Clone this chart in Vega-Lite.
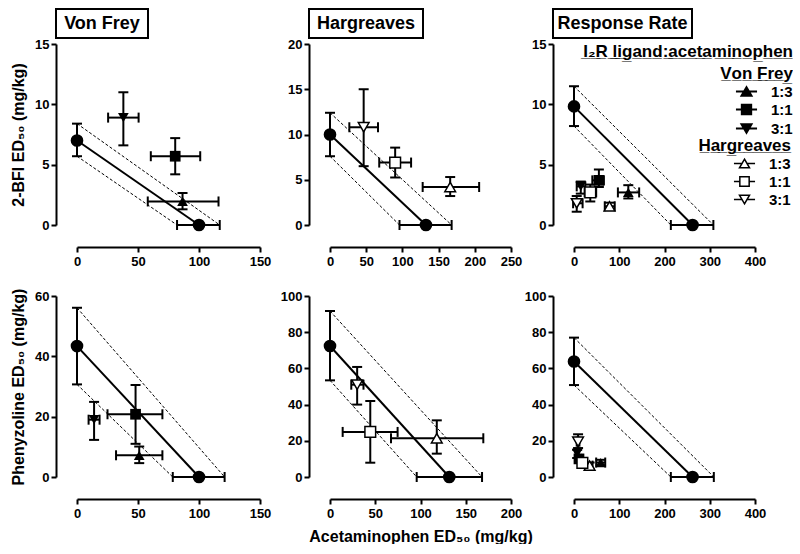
{
"$schema":"https://vega.github.io/schema/vega-lite/v6.json",
"background":"white",
"padding":{"left":10,"top":8,"right":0,"bottom":0},
"config":{
 "font":"Liberation Sans",
 "view":{"stroke":null},
 "axis":{"domainColor":"black","domainWidth":2,"tickColor":"black","tickWidth":2,"tickSize":5,"labelFontSize":13,"labelFontWeight":"bold","labelColor":"black","labelFlush":false,"labelOverlap":false,"labelBound":false,"labelSeparation":0,"titleFontSize":16,"titleFontWeight":"bold","titleColor":"black","grid":false},
 "axisQuantitative":{"labelOverlap":false},
 "axisX":{"labelPadding":3,"titlePadding":8,"labelOverlap":false},
 "axisY":{"labelPadding":2,"titlePadding":8}
},
"datasets":{
"pts":[
{"p":"A","g":"S","r":null,"x":0,"y":7.0,"xl":null,"xh":null,"yl":5.7,"yh":8.4},
{"p":"A","g":"S","r":null,"x":100,"y":0,"xl":82,"xh":117,"yl":null,"yh":null},
{"p":"A","g":"VF","r":"1:3","x":86.5,"y":1.95,"xl":58,"xh":116,"yl":1.3,"yh":2.65},
{"p":"A","g":"VF","r":"1:1","x":80.5,"y":5.7,"xl":60.5,"xh":101,"yl":4.2,"yh":7.2},
{"p":"A","g":"VF","r":"3:1","x":38,"y":8.9,"xl":25.5,"xh":50.5,"yl":6.6,"yh":11.0},
{"p":"B","g":"S","r":null,"x":0,"y":10,"xl":null,"xh":null,"yl":7.6,"yh":12.4},
{"p":"B","g":"S","r":null,"x":132.5,"y":0,"xl":96,"xh":168,"yl":null,"yh":null},
{"p":"B","g":"HG","r":"1:3","x":166,"y":4.2,"xl":128,"xh":206,"yl":3.2,"yh":5.3},
{"p":"B","g":"HG","r":"1:1","x":90,"y":6.9,"xl":68,"xh":112,"yl":5.25,"yh":8.55},
{"p":"B","g":"HG","r":"3:1","x":46.5,"y":10.8,"xl":26.7,"xh":66.3,"yl":6.5,"yh":15.0},
{"p":"C","g":"S","r":null,"x":0,"y":9.83,"xl":null,"xh":null,"yl":8.2,"yh":11.5},
{"p":"C","g":"S","r":null,"x":262,"y":0,"xl":214,"xh":308,"yl":null,"yh":null},
{"p":"C","g":"VF","r":"1:3","x":120,"y":2.7,"xl":97,"xh":144,"yl":2.2,"yh":3.3},
{"p":"C","g":"VF","r":"1:1","x":55,"y":3.7,"xl":40.5,"xh":66,"yl":3.15,"yh":4.6},
{"p":"C","g":"VF","r":"3:1","x":15,"y":3.2,"xl":6,"xh":25,"yl":2.6,"yh":3.6},
{"p":"C","g":"HG","r":"1:3","x":78.5,"y":1.55,"xl":68,"xh":90,"yl":1.25,"yh":1.85},
{"p":"C","g":"HG","r":"1:1","x":36,"y":2.7,"xl":23.5,"xh":49,"yl":1.95,"yh":3.35},
{"p":"C","g":"HG","r":"3:1","x":6,"y":1.8,"xl":-2,"xh":19,"yl":1.1,"yh":2.4},
{"p":"D","g":"S","r":null,"x":0,"y":43.4,"xl":null,"xh":null,"yl":30.7,"yh":56.1},
{"p":"D","g":"S","r":null,"x":100,"y":0,"xl":78.5,"xh":121,"yl":null,"yh":null},
{"p":"D","g":"VF","r":"1:3","x":51,"y":7.2,"xl":32,"xh":70,"yl":4.6,"yh":10.1},
{"p":"D","g":"VF","r":"1:1","x":48,"y":20.8,"xl":25,"xh":70,"yl":11,"yh":30.5},
{"p":"D","g":"VF","r":"3:1","x":14,"y":19,"xl":9.5,"xh":18.5,"yl":12.3,"yh":24.9},
{"p":"E","g":"S","r":null,"x":0,"y":72.4,"xl":null,"xh":null,"yl":53.4,"yh":91.7},
{"p":"E","g":"S","r":null,"x":131.8,"y":0,"xl":95.8,"xh":168,"yl":null,"yh":null},
{"p":"E","g":"HG","r":"1:3","x":118,"y":21.4,"xl":67.4,"xh":169.4,"yl":12.9,"yh":31.3},
{"p":"E","g":"HG","r":"1:1","x":44.5,"y":24.9,"xl":14,"xh":74.7,"yl":7.9,"yh":42},
{"p":"E","g":"HG","r":"3:1","x":30,"y":51,"xl":23.5,"xh":37,"yl":40,"yh":60.8},
{"p":"F","g":"S","r":null,"x":0,"y":63.8,"xl":null,"xh":null,"yl":50.8,"yh":77},
{"p":"F","g":"S","r":null,"x":262,"y":0,"xl":214,"xh":309,"yl":null,"yh":null},
{"p":"F","g":"VF","r":"1:3","x":59,"y":8,"xl":49,"xh":69,"yl":6.5,"yh":9.5},
{"p":"F","g":"VF","r":"1:1","x":11,"y":10,"xl":6,"xh":16,"yl":8,"yh":12},
{"p":"F","g":"VF","r":"3:1","x":7,"y":13,"xl":4,"xh":10,"yl":10.5,"yh":15},
{"p":"F","g":"HG","r":"1:3","x":34.5,"y":6.3,"xl":28,"xh":41,"yl":4.6,"yh":8},
{"p":"F","g":"HG","r":"1:1","x":18.5,"y":7.8,"xl":12,"xh":25,"yl":6,"yh":9.6},
{"p":"F","g":"HG","r":"3:1","x":9,"y":19.5,"xl":6,"xh":12,"yl":16,"yh":23.6}
],
"lns":[
{"p":"A","t":"add","x":0,"y":7.0,"x2":100,"y2":0},
{"p":"A","t":"ci","x":0,"y":8.4,"x2":117,"y2":0},
{"p":"A","t":"ci","x":0,"y":5.7,"x2":82,"y2":0},
{"p":"B","t":"add","x":0,"y":10,"x2":132.5,"y2":0},
{"p":"B","t":"ci","x":0,"y":12.4,"x2":168,"y2":0},
{"p":"B","t":"ci","x":0,"y":7.6,"x2":96,"y2":0},
{"p":"C","t":"add","x":0,"y":9.83,"x2":262,"y2":0},
{"p":"C","t":"ci","x":0,"y":11.5,"x2":308,"y2":0},
{"p":"C","t":"ci","x":0,"y":8.2,"x2":214,"y2":0},
{"p":"D","t":"add","x":0,"y":43.4,"x2":100,"y2":0},
{"p":"D","t":"ci","x":0,"y":56.1,"x2":121,"y2":0},
{"p":"D","t":"ci","x":0,"y":30.7,"x2":78.5,"y2":0},
{"p":"E","t":"add","x":0,"y":72.4,"x2":131.8,"y2":0},
{"p":"E","t":"ci","x":0,"y":91.7,"x2":168,"y2":0},
{"p":"E","t":"ci","x":0,"y":53.4,"x2":95.8,"y2":0},
{"p":"F","t":"add","x":0,"y":63.8,"x2":262,"y2":0},
{"p":"F","t":"ci","x":0,"y":77,"x2":309,"y2":0},
{"p":"F","t":"ci","x":0,"y":50.8,"x2":214,"y2":0}
]
},
"columns":3,
"align":"each",
"bounds":"flush",
"spacing":{"row":6,"column":45},
"concat":[
{"width":92,"height":29,"view":{"stroke":"black","strokeWidth":2},"data":{"values":[{"t":"Von Frey"}]},"mark":{"type":"text","fontSize":18,"fontWeight":"bold","color":"black"},"encoding":{"text":{"field":"t","type":"nominal"}}},
{"width":114,"height":29,"view":{"stroke":"black","strokeWidth":2},"data":{"values":[{"t":"Hargreaves"}]},"mark":{"type":"text","fontSize":18,"fontWeight":"bold","color":"black"},"encoding":{"text":{"field":"t","type":"nominal"}}},
{"width":139,"height":29,"view":{"stroke":"black","strokeWidth":2},"data":{"values":[{"t":"Response Rate"}]},"mark":{"type":"text","fontSize":18,"fontWeight":"bold","color":"black"},"encoding":{"text":{"field":"t","type":"nominal"}}},

{"width":208,"height":203,"layer":[
 {"data":{"name":"lns"},"transform":[{"filter":"datum.p=='A' && datum.t=='add'"}],"mark":{"type":"rule","strokeWidth":2,"color":"black"},"encoding":{"x":{"field":"x","type":"quantitative","title":null,"scale":{"domain":[0,150],"range":[21,204],"nice":false,"zero":false},"axis":{"values":[0,50,100,150],"labelOverlap":false}},"y":{"field":"y","type":"quantitative","title":"2-BFI ED₅₀ (mg/kg)","scale":{"domain":[0,15],"range":[181,0],"nice":false,"zero":false},"axis":{"values":[0,5,10,15],"labelOverlap":false}},"x2":{"field":"x2"},"y2":{"field":"y2"}}},
 {"data":{"name":"lns"},"transform":[{"filter":"datum.p=='A' && datum.t=='ci'"}],"mark":{"type":"rule","strokeWidth":1,"strokeDash":[3,2],"color":"black"},"encoding":{"x":{"field":"x","type":"quantitative","title":null,"scale":{"domain":[0,150],"range":[21,204],"nice":false,"zero":false}},"y":{"field":"y","type":"quantitative","title":"2-BFI ED₅₀ (mg/kg)","scale":{"domain":[0,15],"range":[181,0],"nice":false,"zero":false}},"x2":{"field":"x2"},"y2":{"field":"y2"}}},
 {"data":{"name":"pts"},"transform":[{"filter":"datum.p=='A' && isValid(datum.yl)"}],"mark":{"type":"rule","strokeWidth":2,"color":"black"},"encoding":{"x":{"field":"x","type":"quantitative","title":null,"scale":{"domain":[0,150],"range":[21,204],"nice":false,"zero":false}},"y":{"field":"yl","type":"quantitative","title":"2-BFI ED₅₀ (mg/kg)","scale":{"domain":[0,15],"range":[181,0],"nice":false,"zero":false}},"y2":{"field":"yh"}}},
 {"data":{"name":"pts"},"transform":[{"filter":"datum.p=='A' && isValid(datum.xl)"}],"mark":{"type":"rule","strokeWidth":2,"color":"black"},"encoding":{"x":{"field":"xl","type":"quantitative","title":null,"scale":{"domain":[0,150],"range":[21,204],"nice":false,"zero":false}},"x2":{"field":"xh"},"y":{"field":"y","type":"quantitative","title":"2-BFI ED₅₀ (mg/kg)","scale":{"domain":[0,15],"range":[181,0],"nice":false,"zero":false}}}},
 {"data":{"name":"pts"},"transform":[{"filter":"datum.p=='A' && isValid(datum.yl)"},{"fold":["yl","yh"],"as":["k","cy"]}],"mark":{"type":"tick","orient":"horizontal","size":10,"thickness":2,"color":"black","opacity":1},"encoding":{"x":{"field":"x","type":"quantitative","title":null,"scale":{"domain":[0,150],"range":[21,204],"nice":false,"zero":false}},"y":{"field":"cy","type":"quantitative","title":"2-BFI ED₅₀ (mg/kg)","scale":{"domain":[0,15],"range":[181,0],"nice":false,"zero":false}}}},
 {"data":{"name":"pts"},"transform":[{"filter":"datum.p=='A' && isValid(datum.xl)"},{"fold":["xl","xh"],"as":["k","cx"]}],"mark":{"type":"tick","orient":"vertical","size":10,"thickness":2,"color":"black","opacity":1},"encoding":{"x":{"field":"cx","type":"quantitative","title":null,"scale":{"domain":[0,150],"range":[21,204],"nice":false,"zero":false}},"y":{"field":"y","type":"quantitative","title":"2-BFI ED₅₀ (mg/kg)","scale":{"domain":[0,15],"range":[181,0],"nice":false,"zero":false}}}},
 {"data":{"name":"pts"},"transform":[{"filter":"datum.p=='A' && datum.g=='S'"}],"mark":{"type":"point","shape":"circle","filled":true,"size":160,"color":"black","opacity":1},"encoding":{"x":{"field":"x","type":"quantitative","title":null,"scale":{"domain":[0,150],"range":[21,204],"nice":false,"zero":false}},"y":{"field":"y","type":"quantitative","title":"2-BFI ED₅₀ (mg/kg)","scale":{"domain":[0,15],"range":[181,0],"nice":false,"zero":false}}}},
 {"data":{"name":"pts"},"transform":[{"filter":"datum.p=='A' && datum.g=='VF'"}],"mark":{"type":"point","filled":true,"size":115,"color":"black","opacity":1},"encoding":{"x":{"field":"x","type":"quantitative","title":null,"scale":{"domain":[0,150],"range":[21,204],"nice":false,"zero":false}},"y":{"field":"y","type":"quantitative","title":"2-BFI ED₅₀ (mg/kg)","scale":{"domain":[0,15],"range":[181,0],"nice":false,"zero":false}},"shape":{"field":"r","type":"nominal","scale":{"domain":["1:3","1:1","3:1"],"range":["triangle-up","square","triangle-down"]},"legend":null}}}
]},

{"width":199,"height":203,"layer":[
 {"data":{"name":"lns"},"transform":[{"filter":"datum.p=='B' && datum.t=='add'"}],"mark":{"type":"rule","strokeWidth":2,"color":"black"},"encoding":{"x":{"field":"x","type":"quantitative","title":null,"scale":{"domain":[0,250],"range":[21,202],"nice":false,"zero":false},"axis":{"values":[0,50,100,150,200,250],"tickCount":6,"labelOverlap":false,"labelSeparation":0,"labelBound":false,"labelFlush":false}},"y":{"field":"y","type":"quantitative","title":null,"scale":{"domain":[0,20],"range":[181,0],"nice":false,"zero":false},"axis":{"values":[0,5,10,15,20],"labelOverlap":false}},"x2":{"field":"x2"},"y2":{"field":"y2"}}},
 {"data":{"name":"lns"},"transform":[{"filter":"datum.p=='B' && datum.t=='ci'"}],"mark":{"type":"rule","strokeWidth":1,"strokeDash":[3,2],"color":"black"},"encoding":{"x":{"field":"x","type":"quantitative","title":null,"scale":{"domain":[0,250],"range":[21,202],"nice":false,"zero":false},"axis":{"labelOverlap":false}},"y":{"field":"y","type":"quantitative","title":null,"scale":{"domain":[0,20],"range":[181,0],"nice":false,"zero":false}},"x2":{"field":"x2"},"y2":{"field":"y2"}}},
 {"data":{"name":"pts"},"transform":[{"filter":"datum.p=='B' && isValid(datum.yl)"}],"mark":{"type":"rule","strokeWidth":2,"color":"black"},"encoding":{"x":{"field":"x","type":"quantitative","title":null,"scale":{"domain":[0,250],"range":[21,202],"nice":false,"zero":false},"axis":{"labelOverlap":false}},"y":{"field":"yl","type":"quantitative","title":null,"scale":{"domain":[0,20],"range":[181,0],"nice":false,"zero":false}},"y2":{"field":"yh"}}},
 {"data":{"name":"pts"},"transform":[{"filter":"datum.p=='B' && isValid(datum.xl)"}],"mark":{"type":"rule","strokeWidth":2,"color":"black"},"encoding":{"x":{"field":"xl","type":"quantitative","title":null,"scale":{"domain":[0,250],"range":[21,202],"nice":false,"zero":false},"axis":{"labelOverlap":false}},"x2":{"field":"xh"},"y":{"field":"y","type":"quantitative","title":null,"scale":{"domain":[0,20],"range":[181,0],"nice":false,"zero":false}}}},
 {"data":{"name":"pts"},"transform":[{"filter":"datum.p=='B' && isValid(datum.yl)"},{"fold":["yl","yh"],"as":["k","cy"]}],"mark":{"type":"tick","orient":"horizontal","size":10,"thickness":2,"color":"black","opacity":1},"encoding":{"x":{"field":"x","type":"quantitative","title":null,"scale":{"domain":[0,250],"range":[21,202],"nice":false,"zero":false},"axis":{"labelOverlap":false}},"y":{"field":"cy","type":"quantitative","title":null,"scale":{"domain":[0,20],"range":[181,0],"nice":false,"zero":false}}}},
 {"data":{"name":"pts"},"transform":[{"filter":"datum.p=='B' && isValid(datum.xl)"},{"fold":["xl","xh"],"as":["k","cx"]}],"mark":{"type":"tick","orient":"vertical","size":10,"thickness":2,"color":"black","opacity":1},"encoding":{"x":{"field":"cx","type":"quantitative","title":null,"scale":{"domain":[0,250],"range":[21,202],"nice":false,"zero":false},"axis":{"labelOverlap":false}},"y":{"field":"y","type":"quantitative","title":null,"scale":{"domain":[0,20],"range":[181,0],"nice":false,"zero":false}}}},
 {"data":{"name":"pts"},"transform":[{"filter":"datum.p=='B' && datum.g=='S'"}],"mark":{"type":"point","shape":"circle","filled":true,"size":160,"color":"black","opacity":1},"encoding":{"x":{"field":"x","type":"quantitative","title":null,"scale":{"domain":[0,250],"range":[21,202],"nice":false,"zero":false},"axis":{"labelOverlap":false}},"y":{"field":"y","type":"quantitative","title":null,"scale":{"domain":[0,20],"range":[181,0],"nice":false,"zero":false}}}},
 {"data":{"name":"pts"},"transform":[{"filter":"datum.p=='B' && datum.g=='HG'"}],"mark":{"type":"point","filled":false,"fill":"white","stroke":"black","strokeWidth":1.5,"size":115,"opacity":1},"encoding":{"x":{"field":"x","type":"quantitative","title":null,"scale":{"domain":[0,250],"range":[21,202],"nice":false,"zero":false},"axis":{"labelOverlap":false}},"y":{"field":"y","type":"quantitative","title":null,"scale":{"domain":[0,20],"range":[181,0],"nice":false,"zero":false}},"shape":{"field":"r","type":"nominal","scale":{"domain":["1:3","1:1","3:1"],"range":["triangle-up","square","triangle-down"]},"legend":null}}}
]},

{"width":202,"height":203,"resolve":{"scale":{"shape":"independent"},"legend":{"shape":"independent"}},"layer":[
 {"data":{"name":"lns"},"transform":[{"filter":"datum.p=='C' && datum.t=='add'"}],"mark":{"type":"rule","strokeWidth":2,"color":"black"},"encoding":{"x":{"field":"x","type":"quantitative","title":null,"scale":{"domain":[0,400],"range":[21,202],"nice":false,"zero":false},"axis":{"values":[0,100,200,300,400],"labelOverlap":false}},"y":{"field":"y","type":"quantitative","title":null,"scale":{"domain":[0,15],"range":[181,0],"nice":false,"zero":false},"axis":{"values":[0,5,10,15],"labelOverlap":false}},"x2":{"field":"x2"},"y2":{"field":"y2"}}},
 {"data":{"name":"lns"},"transform":[{"filter":"datum.p=='C' && datum.t=='ci'"}],"mark":{"type":"rule","strokeWidth":1,"strokeDash":[3,2],"color":"black"},"encoding":{"x":{"field":"x","type":"quantitative","title":null,"scale":{"domain":[0,400],"range":[21,202],"nice":false,"zero":false}},"y":{"field":"y","type":"quantitative","title":null,"scale":{"domain":[0,15],"range":[181,0],"nice":false,"zero":false}},"x2":{"field":"x2"},"y2":{"field":"y2"}}},
 {"data":{"name":"pts"},"transform":[{"filter":"datum.p=='C' && isValid(datum.yl)"}],"mark":{"type":"rule","strokeWidth":2,"color":"black"},"encoding":{"x":{"field":"x","type":"quantitative","title":null,"scale":{"domain":[0,400],"range":[21,202],"nice":false,"zero":false}},"y":{"field":"yl","type":"quantitative","title":null,"scale":{"domain":[0,15],"range":[181,0],"nice":false,"zero":false}},"y2":{"field":"yh"}}},
 {"data":{"name":"pts"},"transform":[{"filter":"datum.p=='C' && isValid(datum.xl)"}],"mark":{"type":"rule","strokeWidth":2,"color":"black"},"encoding":{"x":{"field":"xl","type":"quantitative","title":null,"scale":{"domain":[0,400],"range":[21,202],"nice":false,"zero":false}},"x2":{"field":"xh"},"y":{"field":"y","type":"quantitative","title":null,"scale":{"domain":[0,15],"range":[181,0],"nice":false,"zero":false}}}},
 {"data":{"name":"pts"},"transform":[{"filter":"datum.p=='C' && isValid(datum.yl)"},{"fold":["yl","yh"],"as":["k","cy"]}],"mark":{"type":"tick","orient":"horizontal","size":10,"thickness":2,"color":"black","opacity":1},"encoding":{"x":{"field":"x","type":"quantitative","title":null,"scale":{"domain":[0,400],"range":[21,202],"nice":false,"zero":false}},"y":{"field":"cy","type":"quantitative","title":null,"scale":{"domain":[0,15],"range":[181,0],"nice":false,"zero":false}}}},
 {"data":{"name":"pts"},"transform":[{"filter":"datum.p=='C' && isValid(datum.xl)"},{"fold":["xl","xh"],"as":["k","cx"]}],"mark":{"type":"tick","orient":"vertical","size":10,"thickness":2,"color":"black","opacity":1},"encoding":{"x":{"field":"cx","type":"quantitative","title":null,"scale":{"domain":[0,400],"range":[21,202],"nice":false,"zero":false}},"y":{"field":"y","type":"quantitative","title":null,"scale":{"domain":[0,15],"range":[181,0],"nice":false,"zero":false}}}},
 {"data":{"name":"pts"},"transform":[{"filter":"datum.p=='C' && datum.g=='S'"}],"mark":{"type":"point","shape":"circle","filled":true,"size":160,"color":"black","opacity":1},"encoding":{"x":{"field":"x","type":"quantitative","title":null,"scale":{"domain":[0,400],"range":[21,202],"nice":false,"zero":false}},"y":{"field":"y","type":"quantitative","title":null,"scale":{"domain":[0,15],"range":[181,0],"nice":false,"zero":false}}}},
 {"data":{"name":"pts"},"transform":[{"filter":"datum.p=='C' && datum.g=='VF'"}],"mark":{"type":"point","filled":true,"size":115,"color":"black","opacity":1},"encoding":{"x":{"field":"x","type":"quantitative","title":null,"scale":{"domain":[0,400],"range":[21,202],"nice":false,"zero":false}},"y":{"field":"y","type":"quantitative","title":null,"scale":{"domain":[0,15],"range":[181,0],"nice":false,"zero":false}},"shape":{"field":"r","type":"nominal","scale":{"domain":["1:3","1:1","3:1"],"range":["triangle-up","square","triangle-down"]},"legend":null}}},
 {"data":{"name":"pts"},"transform":[{"filter":"datum.p=='C' && datum.g=='HG'"}],"mark":{"type":"point","filled":false,"fill":"white","stroke":"black","strokeWidth":1.5,"size":115,"opacity":1},"encoding":{"x":{"field":"x","type":"quantitative","title":null,"scale":{"domain":[0,400],"range":[21,202],"nice":false,"zero":false}},"y":{"field":"y","type":"quantitative","title":null,"scale":{"domain":[0,15],"range":[181,0],"nice":false,"zero":false}},"shape":{"field":"r","type":"nominal","scale":{"domain":["1:3","1:1","3:1"],"range":["triangle-up","square","triangle-down"]},"legend":null}}},
 {"data":{"name":"pts"},"transform":[{"filter":"datum.p=='none'"}],"mark":{"type":"point","filled":true,"size":100,"fill":"black","stroke":"black","strokeWidth":2,"opacity":1},"encoding":{"x":{"field":"x","type":"quantitative","title":null,"scale":{"domain":[0,400],"range":[21,202],"nice":false,"zero":false}},"y":{"field":"y","type":"quantitative","title":null,"scale":{"domain":[0,15],"range":[181,0],"nice":false,"zero":false}},"shape":{"field":"r","type":"nominal","scale":{"domain":["1:3","1:1","3:1"],"range":["M-1.24,0H1.24M0,-0.51L0.59,0.51L-0.59,0.51Z","M-1.24,0H1.24M-0.55,-0.55H0.55V0.55H-0.55Z","M-1.24,0H1.24M0,0.51L0.59,-0.51L-0.59,-0.51Z"]},"legend":{"orient":"none","legendX":30,"legendY":0,"title":["I\u0332₂\u0332R\u0332 \u0332l\u0332i\u0332g\u0332a\u0332n\u0332d\u0332:\u0332a\u0332c\u0332e\u0332t\u0332a\u0332m\u0332i\u0332n\u0332o\u0332p\u0332h\u0332e\u0332n\u0332","V\u0332o\u0332n\u0332 \u0332F\u0332r\u0332e\u0332y\u0332"],"titleAnchor":"end","titleAlign":"right","titleFontSize":17,"titleFontWeight":"bold","titleColor":"black","titleLineHeight":22,"titlePadding":-1,"titleLimit":400,"labelFontSize":15,"labelFontWeight":"bold","labelColor":"black","labelOffset":15,"labelLimit":200,"symbolOffset":152,"symbolSize":289,"symbolStrokeWidth":2,"symbolOpacity":1,"rowPadding":-6,"padding":0}}}},
 {"data":{"name":"pts"},"transform":[{"filter":"datum.p=='none'"}],"mark":{"type":"point","filled":false,"fill":"white","stroke":"black","strokeWidth":1.5,"size":100,"opacity":1},"encoding":{"x":{"field":"x","type":"quantitative","title":null,"scale":{"domain":[0,400],"range":[21,202],"nice":false,"zero":false}},"y":{"field":"y","type":"quantitative","title":null,"scale":{"domain":[0,15],"range":[181,0],"nice":false,"zero":false}},"shape":{"field":"r","type":"nominal","scale":{"domain":["1:3","1:1","3:1"],"range":["M-1.24,0H-0.3M0.3,0H1.24M0,-0.51L0.59,0.51L-0.59,0.51Z","M-1.24,0H-0.55M0.55,0H1.24M-0.55,-0.55H0.55V0.55H-0.55Z","M-1.24,0H-0.3M0.3,0H1.24M0,0.51L0.59,-0.51L-0.59,-0.51Z"]},"legend":{"orient":"none","legendX":145,"legendY":94,"title":"H\u0332a\u0332r\u0332g\u0332r\u0332e\u0332a\u0332v\u0332e\u0332s\u0332","titleAnchor":"end","titleAlign":"right","titleFontSize":17,"titleFontWeight":"bold","titleColor":"black","titlePadding":-1,"titleLimit":400,"labelFontSize":15,"labelFontWeight":"bold","labelColor":"black","labelOffset":15,"labelLimit":200,"symbolOffset":37,"symbolSize":289,"symbolStrokeWidth":1.5,"symbolOpacity":1,"rowPadding":-6,"padding":0}}}}
]},

{"width":208,"height":246,"layer":[
 {"data":{"name":"lns"},"transform":[{"filter":"datum.p=='D' && datum.t=='add'"}],"mark":{"type":"rule","strokeWidth":2,"color":"black"},"encoding":{"x":{"field":"x","type":"quantitative","title":null,"scale":{"domain":[0,150],"range":[21,204],"nice":false,"zero":false},"axis":{"values":[0,50,100,150],"labelOverlap":false}},"y":{"field":"y","type":"quantitative","title":"Phenyzoline ED₅₀ (mg/kg)","scale":{"domain":[0,60],"range":[224,43],"nice":false,"zero":false},"axis":{"values":[0,20,40,60],"labelOverlap":false}},"x2":{"field":"x2"},"y2":{"field":"y2"}}},
 {"data":{"name":"lns"},"transform":[{"filter":"datum.p=='D' && datum.t=='ci'"}],"mark":{"type":"rule","strokeWidth":1,"strokeDash":[3,2],"color":"black"},"encoding":{"x":{"field":"x","type":"quantitative","title":null,"scale":{"domain":[0,150],"range":[21,204],"nice":false,"zero":false}},"y":{"field":"y","type":"quantitative","title":"Phenyzoline ED₅₀ (mg/kg)","scale":{"domain":[0,60],"range":[224,43],"nice":false,"zero":false}},"x2":{"field":"x2"},"y2":{"field":"y2"}}},
 {"data":{"name":"pts"},"transform":[{"filter":"datum.p=='D' && isValid(datum.yl)"}],"mark":{"type":"rule","strokeWidth":2,"color":"black"},"encoding":{"x":{"field":"x","type":"quantitative","title":null,"scale":{"domain":[0,150],"range":[21,204],"nice":false,"zero":false}},"y":{"field":"yl","type":"quantitative","title":"Phenyzoline ED₅₀ (mg/kg)","scale":{"domain":[0,60],"range":[224,43],"nice":false,"zero":false}},"y2":{"field":"yh"}}},
 {"data":{"name":"pts"},"transform":[{"filter":"datum.p=='D' && isValid(datum.xl)"}],"mark":{"type":"rule","strokeWidth":2,"color":"black"},"encoding":{"x":{"field":"xl","type":"quantitative","title":null,"scale":{"domain":[0,150],"range":[21,204],"nice":false,"zero":false}},"x2":{"field":"xh"},"y":{"field":"y","type":"quantitative","title":"Phenyzoline ED₅₀ (mg/kg)","scale":{"domain":[0,60],"range":[224,43],"nice":false,"zero":false}}}},
 {"data":{"name":"pts"},"transform":[{"filter":"datum.p=='D' && isValid(datum.yl)"},{"fold":["yl","yh"],"as":["k","cy"]}],"mark":{"type":"tick","orient":"horizontal","size":10,"thickness":2,"color":"black","opacity":1},"encoding":{"x":{"field":"x","type":"quantitative","title":null,"scale":{"domain":[0,150],"range":[21,204],"nice":false,"zero":false}},"y":{"field":"cy","type":"quantitative","title":"Phenyzoline ED₅₀ (mg/kg)","scale":{"domain":[0,60],"range":[224,43],"nice":false,"zero":false}}}},
 {"data":{"name":"pts"},"transform":[{"filter":"datum.p=='D' && isValid(datum.xl)"},{"fold":["xl","xh"],"as":["k","cx"]}],"mark":{"type":"tick","orient":"vertical","size":10,"thickness":2,"color":"black","opacity":1},"encoding":{"x":{"field":"cx","type":"quantitative","title":null,"scale":{"domain":[0,150],"range":[21,204],"nice":false,"zero":false}},"y":{"field":"y","type":"quantitative","title":"Phenyzoline ED₅₀ (mg/kg)","scale":{"domain":[0,60],"range":[224,43],"nice":false,"zero":false}}}},
 {"data":{"name":"pts"},"transform":[{"filter":"datum.p=='D' && datum.g=='S'"}],"mark":{"type":"point","shape":"circle","filled":true,"size":160,"color":"black","opacity":1},"encoding":{"x":{"field":"x","type":"quantitative","title":null,"scale":{"domain":[0,150],"range":[21,204],"nice":false,"zero":false}},"y":{"field":"y","type":"quantitative","title":"Phenyzoline ED₅₀ (mg/kg)","scale":{"domain":[0,60],"range":[224,43],"nice":false,"zero":false}}}},
 {"data":{"name":"pts"},"transform":[{"filter":"datum.p=='D' && datum.g=='VF'"}],"mark":{"type":"point","filled":true,"size":115,"color":"black","opacity":1},"encoding":{"x":{"field":"x","type":"quantitative","title":null,"scale":{"domain":[0,150],"range":[21,204],"nice":false,"zero":false}},"y":{"field":"y","type":"quantitative","title":"Phenyzoline ED₅₀ (mg/kg)","scale":{"domain":[0,60],"range":[224,43],"nice":false,"zero":false}},"shape":{"field":"r","type":"nominal","scale":{"domain":["1:3","1:1","3:1"],"range":["triangle-up","square","triangle-down"]},"legend":null}}}
]},

{"width":199,"height":246,"layer":[
 {"data":{"name":"lns"},"transform":[{"filter":"datum.p=='E' && datum.t=='add'"}],"mark":{"type":"rule","strokeWidth":2,"color":"black"},"encoding":{"x":{"field":"x","type":"quantitative","title":"Acetaminophen ED₅₀ (mg/kg)","scale":{"domain":[0,200],"range":[21,202],"nice":false,"zero":false},"axis":{"values":[0,50,100,150,200],"labelOverlap":false}},"y":{"field":"y","type":"quantitative","title":null,"scale":{"domain":[0,100],"range":[224,43],"nice":false,"zero":false},"axis":{"values":[0,20,40,60,80,100],"labelOverlap":false}},"x2":{"field":"x2"},"y2":{"field":"y2"}}},
 {"data":{"name":"lns"},"transform":[{"filter":"datum.p=='E' && datum.t=='ci'"}],"mark":{"type":"rule","strokeWidth":1,"strokeDash":[3,2],"color":"black"},"encoding":{"x":{"field":"x","type":"quantitative","title":"Acetaminophen ED₅₀ (mg/kg)","scale":{"domain":[0,200],"range":[21,202],"nice":false,"zero":false}},"y":{"field":"y","type":"quantitative","title":null,"scale":{"domain":[0,100],"range":[224,43],"nice":false,"zero":false}},"x2":{"field":"x2"},"y2":{"field":"y2"}}},
 {"data":{"name":"pts"},"transform":[{"filter":"datum.p=='E' && isValid(datum.yl)"}],"mark":{"type":"rule","strokeWidth":2,"color":"black"},"encoding":{"x":{"field":"x","type":"quantitative","title":"Acetaminophen ED₅₀ (mg/kg)","scale":{"domain":[0,200],"range":[21,202],"nice":false,"zero":false}},"y":{"field":"yl","type":"quantitative","title":null,"scale":{"domain":[0,100],"range":[224,43],"nice":false,"zero":false}},"y2":{"field":"yh"}}},
 {"data":{"name":"pts"},"transform":[{"filter":"datum.p=='E' && isValid(datum.xl)"}],"mark":{"type":"rule","strokeWidth":2,"color":"black"},"encoding":{"x":{"field":"xl","type":"quantitative","title":"Acetaminophen ED₅₀ (mg/kg)","scale":{"domain":[0,200],"range":[21,202],"nice":false,"zero":false}},"x2":{"field":"xh"},"y":{"field":"y","type":"quantitative","title":null,"scale":{"domain":[0,100],"range":[224,43],"nice":false,"zero":false}}}},
 {"data":{"name":"pts"},"transform":[{"filter":"datum.p=='E' && isValid(datum.yl)"},{"fold":["yl","yh"],"as":["k","cy"]}],"mark":{"type":"tick","orient":"horizontal","size":10,"thickness":2,"color":"black","opacity":1},"encoding":{"x":{"field":"x","type":"quantitative","title":"Acetaminophen ED₅₀ (mg/kg)","scale":{"domain":[0,200],"range":[21,202],"nice":false,"zero":false}},"y":{"field":"cy","type":"quantitative","title":null,"scale":{"domain":[0,100],"range":[224,43],"nice":false,"zero":false}}}},
 {"data":{"name":"pts"},"transform":[{"filter":"datum.p=='E' && isValid(datum.xl)"},{"fold":["xl","xh"],"as":["k","cx"]}],"mark":{"type":"tick","orient":"vertical","size":10,"thickness":2,"color":"black","opacity":1},"encoding":{"x":{"field":"cx","type":"quantitative","title":"Acetaminophen ED₅₀ (mg/kg)","scale":{"domain":[0,200],"range":[21,202],"nice":false,"zero":false}},"y":{"field":"y","type":"quantitative","title":null,"scale":{"domain":[0,100],"range":[224,43],"nice":false,"zero":false}}}},
 {"data":{"name":"pts"},"transform":[{"filter":"datum.p=='E' && datum.g=='S'"}],"mark":{"type":"point","shape":"circle","filled":true,"size":160,"color":"black","opacity":1},"encoding":{"x":{"field":"x","type":"quantitative","title":"Acetaminophen ED₅₀ (mg/kg)","scale":{"domain":[0,200],"range":[21,202],"nice":false,"zero":false}},"y":{"field":"y","type":"quantitative","title":null,"scale":{"domain":[0,100],"range":[224,43],"nice":false,"zero":false}}}},
 {"data":{"name":"pts"},"transform":[{"filter":"datum.p=='E' && datum.g=='HG'"}],"mark":{"type":"point","filled":false,"fill":"white","stroke":"black","strokeWidth":1.5,"size":115,"opacity":1},"encoding":{"x":{"field":"x","type":"quantitative","title":"Acetaminophen ED₅₀ (mg/kg)","scale":{"domain":[0,200],"range":[21,202],"nice":false,"zero":false}},"y":{"field":"y","type":"quantitative","title":null,"scale":{"domain":[0,100],"range":[224,43],"nice":false,"zero":false}},"shape":{"field":"r","type":"nominal","scale":{"domain":["1:3","1:1","3:1"],"range":["triangle-up","square","triangle-down"]},"legend":null}}}
]},

{"width":202,"height":246,"layer":[
 {"data":{"name":"lns"},"transform":[{"filter":"datum.p=='F' && datum.t=='add'"}],"mark":{"type":"rule","strokeWidth":2,"color":"black"},"encoding":{"x":{"field":"x","type":"quantitative","title":null,"scale":{"domain":[0,400],"range":[21,202],"nice":false,"zero":false},"axis":{"values":[0,100,200,300,400],"labelOverlap":false}},"y":{"field":"y","type":"quantitative","title":null,"scale":{"domain":[0,100],"range":[224,43],"nice":false,"zero":false},"axis":{"values":[0,20,40,60,80,100],"labelOverlap":false}},"x2":{"field":"x2"},"y2":{"field":"y2"}}},
 {"data":{"name":"lns"},"transform":[{"filter":"datum.p=='F' && datum.t=='ci'"}],"mark":{"type":"rule","strokeWidth":1,"strokeDash":[3,2],"color":"black"},"encoding":{"x":{"field":"x","type":"quantitative","title":null,"scale":{"domain":[0,400],"range":[21,202],"nice":false,"zero":false}},"y":{"field":"y","type":"quantitative","title":null,"scale":{"domain":[0,100],"range":[224,43],"nice":false,"zero":false}},"x2":{"field":"x2"},"y2":{"field":"y2"}}},
 {"data":{"name":"pts"},"transform":[{"filter":"datum.p=='F' && isValid(datum.yl)"}],"mark":{"type":"rule","strokeWidth":2,"color":"black"},"encoding":{"x":{"field":"x","type":"quantitative","title":null,"scale":{"domain":[0,400],"range":[21,202],"nice":false,"zero":false}},"y":{"field":"yl","type":"quantitative","title":null,"scale":{"domain":[0,100],"range":[224,43],"nice":false,"zero":false}},"y2":{"field":"yh"}}},
 {"data":{"name":"pts"},"transform":[{"filter":"datum.p=='F' && isValid(datum.xl)"}],"mark":{"type":"rule","strokeWidth":2,"color":"black"},"encoding":{"x":{"field":"xl","type":"quantitative","title":null,"scale":{"domain":[0,400],"range":[21,202],"nice":false,"zero":false}},"x2":{"field":"xh"},"y":{"field":"y","type":"quantitative","title":null,"scale":{"domain":[0,100],"range":[224,43],"nice":false,"zero":false}}}},
 {"data":{"name":"pts"},"transform":[{"filter":"datum.p=='F' && isValid(datum.yl)"},{"fold":["yl","yh"],"as":["k","cy"]}],"mark":{"type":"tick","orient":"horizontal","size":10,"thickness":2,"color":"black","opacity":1},"encoding":{"x":{"field":"x","type":"quantitative","title":null,"scale":{"domain":[0,400],"range":[21,202],"nice":false,"zero":false}},"y":{"field":"cy","type":"quantitative","title":null,"scale":{"domain":[0,100],"range":[224,43],"nice":false,"zero":false}}}},
 {"data":{"name":"pts"},"transform":[{"filter":"datum.p=='F' && isValid(datum.xl)"},{"fold":["xl","xh"],"as":["k","cx"]}],"mark":{"type":"tick","orient":"vertical","size":10,"thickness":2,"color":"black","opacity":1},"encoding":{"x":{"field":"cx","type":"quantitative","title":null,"scale":{"domain":[0,400],"range":[21,202],"nice":false,"zero":false}},"y":{"field":"y","type":"quantitative","title":null,"scale":{"domain":[0,100],"range":[224,43],"nice":false,"zero":false}}}},
 {"data":{"name":"pts"},"transform":[{"filter":"datum.p=='F' && datum.g=='S'"}],"mark":{"type":"point","shape":"circle","filled":true,"size":160,"color":"black","opacity":1},"encoding":{"x":{"field":"x","type":"quantitative","title":null,"scale":{"domain":[0,400],"range":[21,202],"nice":false,"zero":false}},"y":{"field":"y","type":"quantitative","title":null,"scale":{"domain":[0,100],"range":[224,43],"nice":false,"zero":false}}}},
 {"data":{"name":"pts"},"transform":[{"filter":"datum.p=='F' && datum.g=='VF'"}],"mark":{"type":"point","filled":true,"size":115,"color":"black","opacity":1},"encoding":{"x":{"field":"x","type":"quantitative","title":null,"scale":{"domain":[0,400],"range":[21,202],"nice":false,"zero":false}},"y":{"field":"y","type":"quantitative","title":null,"scale":{"domain":[0,100],"range":[224,43],"nice":false,"zero":false}},"shape":{"field":"r","type":"nominal","scale":{"domain":["1:3","1:1","3:1"],"range":["triangle-up","square","triangle-down"]},"legend":null}}},
 {"data":{"name":"pts"},"transform":[{"filter":"datum.p=='F' && datum.g=='HG'"}],"mark":{"type":"point","filled":false,"fill":"white","stroke":"black","strokeWidth":1.5,"size":115,"opacity":1},"encoding":{"x":{"field":"x","type":"quantitative","title":null,"scale":{"domain":[0,400],"range":[21,202],"nice":false,"zero":false}},"y":{"field":"y","type":"quantitative","title":null,"scale":{"domain":[0,100],"range":[224,43],"nice":false,"zero":false}},"shape":{"field":"r","type":"nominal","scale":{"domain":["1:3","1:1","3:1"],"range":["triangle-up","square","triangle-down"]},"legend":null}}}
]}
]
}
